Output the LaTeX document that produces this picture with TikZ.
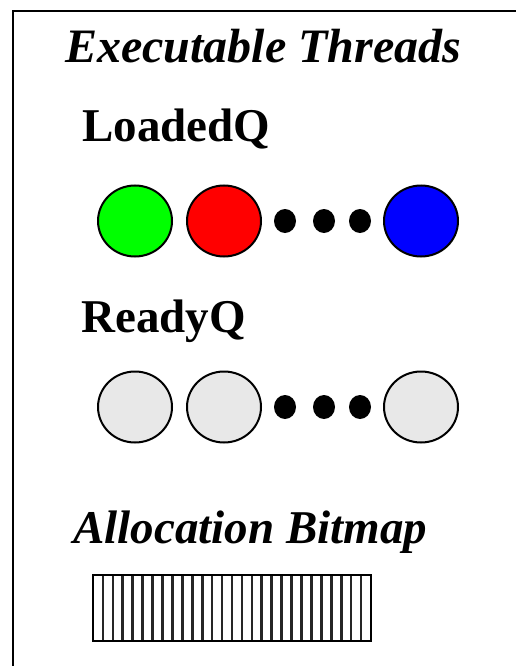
\documentclass[tikz,border=0pt]{standalone}
\usepackage{fontspec}
\setmainfont{Liberation Serif}
\usepackage{tikz}
\usetikzlibrary{shapes.geometric,positioning}

\tikzset{
    thread/.style={ellipse, draw, line width=2pt, minimum width=74pt, minimum height=71pt, inner sep=0pt},
    dot/.style={ellipse, fill=black, minimum width=22pt, minimum height=24pt, inner sep=0pt},
    heading/.style={anchor=base west, inner sep=0pt, font=\fontsize{47}{47}\selectfont\bfseries}
}

\begin{document}
\begin{tikzpicture}[x=1pt, y=-1pt]
        \useasboundingbox (0,0) rectangle (516,666);

        % Frame
        \draw[line width=2pt] (13,667) -- (13,11) -- (517,11);

        % Labels
        \node[heading, font=\fontsize{48}{48}\selectfont\bfseries\itshape] (title) at (65,63) {Executable Threads};
        \node[heading] (loaded) at (82,142) {LoadedQ};
        \node[heading] (ready) at (81,332) {ReadyQ};
        \node[heading, font=\fontsize{47}{47}\selectfont\bfseries\itshape] (alloc) at (73,543) {Allocation Bitmap};

        % LoadedQ threads
        \node[thread, fill=green] (l1) at (135,221) {};
        \node[thread, fill=red] (l2) at (224,221) {};
        \node[thread, fill=blue] (l3) at (421,221) {};
        \foreach \x/\n in {285/a, 324/b, 360/c}
            \node[dot] (ld\n) at (\x,221) {};

        % ReadyQ threads
        \node[thread, fill=black!9] (r1) at (135,407) {};
        \node[thread, fill=black!9] (r2) at (224,407) {};
        \node[thread, fill=black!9] (r3) at (421,407) {};
        \foreach \x/\n in {285/a, 324/b, 360/c}
            \node[dot] (rd\n) at (\x,407) {};

        % Bitmap
        \foreach \i in {1,...,27}
            \draw[line width=2.6pt, black!85] ({93+\i*278/28},575) -- ({93+\i*278/28},641);
        \draw[line width=2.2pt] (93,575) rectangle (371,641);
    \end{tikzpicture}
\end{document}
